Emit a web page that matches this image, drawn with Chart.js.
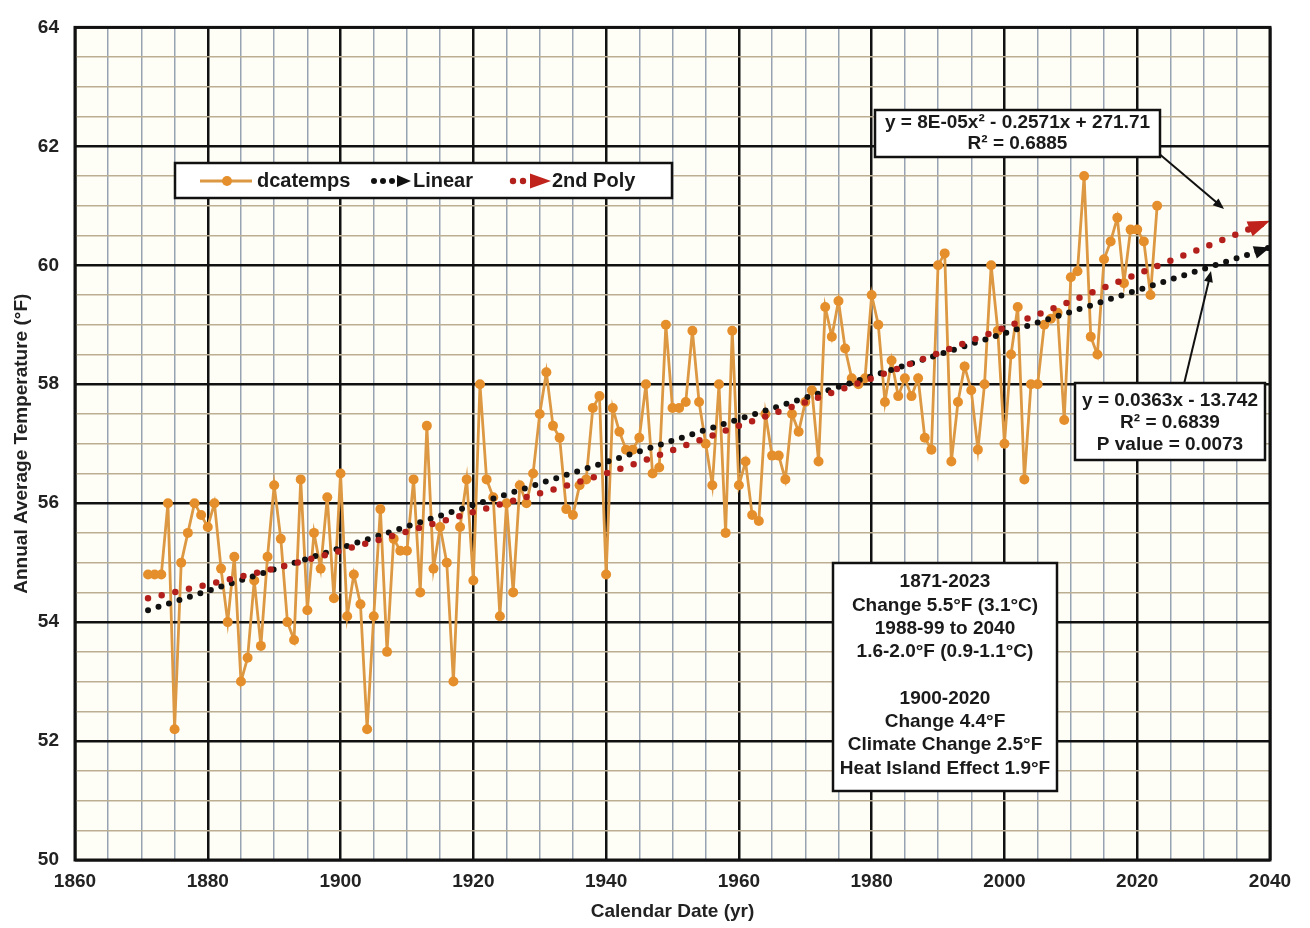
<!DOCTYPE html>
<html><head><meta charset="utf-8">
<script src="https://cdn.jsdelivr.net/npm/chart.js@4.4.0/dist/chart.umd.min.js"></script>
<style>html,body{margin:0;padding:0;background:#fff}#wrap{width:1310px;height:928px}</style>
</head><body><div id="wrap"><canvas id="c" width="1310" height="928"></canvas></div>
<script>
// ---------------- DATA ----------------
const startYear = 1871;
const temps = [
 54.8,54.8,54.8,56.0,52.2,55.0,55.5,56.0,55.8,55.6,   // 1871-1880
 56.0,54.9,54.0,55.1,53.0,53.4,54.7,53.6,55.1,56.3,   // 1881-1890
 55.4,54.0,53.7,56.4,54.2,55.5,54.9,56.1,54.4,56.5,   // 1891-1900
 54.1,54.8,54.3,52.2,54.1,55.9,53.5,55.4,55.2,55.2,   // 1901-1910
 56.4,54.5,57.3,54.9,55.6,55.0,53.0,55.6,56.4,54.7,   // 1911-1920
 58.0,56.4,56.1,54.1,56.0,54.5,56.3,56.0,56.5,57.5,   // 1921-1930
 58.2,57.3,57.1,55.9,55.8,56.3,56.4,57.6,57.8,54.8,   // 1931-1940
 57.6,57.2,56.9,56.9,57.1,58.0,56.5,56.6,59.0,57.6,   // 1941-1950
 57.6,57.7,58.9,57.7,57.0,56.3,58.0,55.5,58.9,56.3,   // 1951-1960
 56.7,55.8,55.7,57.5,56.8,56.8,56.4,57.5,57.2,57.7,   // 1961-1970
 57.9,56.7,59.3,58.8,59.4,58.6,58.1,58.0,58.1,59.5,   // 1971-1980
 59.0,57.7,58.4,57.8,58.1,57.8,58.1,57.1,56.9,60.0,   // 1981-1990
 60.2,56.7,57.7,58.3,57.9,56.9,58.0,60.0,58.9,57.0,   // 1991-2000
 58.5,59.3,56.4,58.0,58.0,59.0,59.1,59.2,57.4,59.8,   // 2001-2010
 59.9,61.5,58.8,58.5,60.1,60.4,60.8,59.7,60.6,60.6,   // 2011-2020
 60.4,59.5,61.0                                       // 2021-2023
];
const linearYears = [1871, 2040];
const linearVals  = [54.2, 60.3];
const polyYears = [1871, 1890, 1900, 1920, 1940, 1960, 1980, 2000, 2020, 2040];
const polyVals  = [54.4, 54.9, 55.2, 55.85, 56.5, 57.3, 58.1, 58.95, 59.85, 60.75];
const xMin = 1860, xMax = 2040, xMinorStep = 5, xMajorStep = 20;
const yMin = 50, yMax = 64, yMinorStep = 0.5, yMajorStep = 2;
const seriesNames = ['dcatemps', 'Linear', '2nd Poly'];
const xTitle = 'Calendar Date (yr)';
const yTitle = 'Annual Average Temperature (°F)';
const polyBoxLines = ['y = 8E-05x² - 0.2571x + 271.71', 'R² = 0.6885'];
const linBoxLines  = ['y = 0.0363x - 13.742', 'R² = 0.6839', 'P value = 0.0073'];
const noteLines = ['1871-2023', 'Change 5.5°F (3.1°C)', '1988-99 to 2040', '1.6-2.0°F (0.9-1.1°C)', '',
                   '1900-2020', 'Change 4.4°F', 'Climate Change 2.5°F', 'Heat Island Effect 1.9°F'];

// ---------------- STYLE ----------------
const FAM = '"Liberation Sans", Arial, sans-serif';
const ORANGE = '#e58f2c', ORANGE_LINE = '#dc9843', RED = '#b3201c', BLACK = '#111';

const tempPts = temps.map((v, i) => ({x: startYear + i, y: v}));
const linPts = linearYears.map((x, i) => ({x, y: linearVals[i]}));
const polyPts = polyYears.map((x, i) => ({x, y: polyVals[i]}));

function arrowHead(ctx, tx, ty, ang, len, half, color) {
  ctx.save();
  ctx.translate(tx, ty); ctx.rotate(ang);
  ctx.beginPath(); ctx.moveTo(0, 0); ctx.lineTo(-len, -half); ctx.lineTo(-len, half); ctx.closePath();
  ctx.fillStyle = color; ctx.fill();
  ctx.restore();
}
function textBox(ctx, x, y, w, h, lines, lineH, firstY, font) {
  ctx.save();
  ctx.fillStyle = '#fff'; ctx.fillRect(x, y, w, h);
  ctx.lineWidth = 2.5; ctx.strokeStyle = '#111'; ctx.strokeRect(x, y, w, h);
  ctx.fillStyle = '#1a1a1a'; ctx.font = font; ctx.textAlign = 'center'; ctx.textBaseline = 'middle';
  lines.forEach((t, i) => { if (t) ctx.fillText(t, x + w / 2, firstY + i * lineH); });
  ctx.restore();
}

const annot = {
  id: 'annot',
  beforeDraw(chart) {
    const {ctx, chartArea: a} = chart;
    ctx.save(); ctx.fillStyle = '#fffef6'; ctx.fillRect(a.left, a.top, a.right - a.left, a.bottom - a.top); ctx.restore();
  },
  afterDatasetsDraw(chart) {
    const ctx = chart.ctx;
    // arrowheads at end of trend lines
    [[1, BLACK, 16, 6.5], [2, '#c0221c', 22, 8]].forEach(([di, col, len, half]) => {
      const pts = chart.getDatasetMeta(di).data;
      const a = pts[pts.length - 2], b = pts[pts.length - 1];
      const ang = Math.atan2(b.y - a.y, b.x - a.x);
      arrowHead(ctx, b.x, b.y, ang, len, half, col);
    });
    const font = 'bold 19px ' + FAM;
    // Legend
    ctx.save();
    ctx.fillStyle = '#fff'; ctx.fillRect(175, 163, 497, 35);
    ctx.lineWidth = 2.5; ctx.strokeStyle = '#111'; ctx.strokeRect(175, 163, 497, 35);
    const ly = 181;
    ctx.strokeStyle = ORANGE_LINE; ctx.lineWidth = 2.8;
    ctx.beginPath(); ctx.moveTo(200, ly); ctx.lineTo(252, ly); ctx.stroke();
    ctx.fillStyle = ORANGE; ctx.beginPath(); ctx.arc(227, ly, 5, 0, Math.PI * 2); ctx.fill();
    ctx.fillStyle = BLACK;
    [374, 383, 392].forEach(x => { ctx.beginPath(); ctx.arc(x, ly, 3, 0, Math.PI * 2); ctx.fill(); });
    arrowHead(ctx, 411, ly, 0, 14, 6, BLACK);
    ctx.fillStyle = RED;
    [513, 523].forEach(x => { ctx.beginPath(); ctx.arc(x, ly, 3.2, 0, Math.PI * 2); ctx.fill(); });
    arrowHead(ctx, 551, ly, 0, 21, 7.5, '#c0221c');
    ctx.fillStyle = '#1a1a1a'; ctx.font = 'bold 20px ' + FAM; ctx.textBaseline = 'middle'; ctx.textAlign = 'left';
    ctx.fillText(seriesNames[0], 257, ly);
    ctx.fillText(seriesNames[1], 413, ly);
    ctx.fillText(seriesNames[2], 552, ly);
    ctx.restore();
    // Callout arrows
    ctx.save();
    ctx.strokeStyle = '#111'; ctx.lineWidth = 2;
    ctx.beginPath(); ctx.moveTo(1157, 152); ctx.lineTo(1222, 207); ctx.stroke();
    arrowHead(ctx, 1224, 209, Math.atan2(55, 65), 11, 4.5, '#111');
    ctx.beginPath(); ctx.moveTo(1184, 384); ctx.lineTo(1210, 276); ctx.stroke();
    arrowHead(ctx, 1211, 271, Math.atan2(-108, 26), 11, 4.5, '#111');
    ctx.restore();
    // Text boxes
    textBox(ctx, 875, 110, 285, 47, polyBoxLines, 21, 123, font);
    textBox(ctx, 1075, 383, 190, 77, linBoxLines, 22, 401, font);
    textBox(ctx, 833, 563, 224, 228, noteLines, 23.3, 582, font);
  },
  afterDraw(chart) {
    const {ctx, chartArea: a} = chart;
    ctx.save(); ctx.lineWidth = 3; ctx.strokeStyle = '#111';
    ctx.strokeRect(a.left, a.top, a.right - a.left, a.bottom - a.top); ctx.restore();
  }
};

const tickFont = {family: FAM, size: 19, weight: 'bold'};
new Chart(document.getElementById('c'), {
  type: 'line',
  data: {
    datasets: [
      {label: seriesNames[0], data: tempPts, borderColor: ORANGE_LINE, borderWidth: 2.8,
       pointRadius: 5, pointBackgroundColor: ORANGE, pointBorderColor: ORANGE, pointBorderWidth: 0,
       tension: 0, order: 3},
      {label: seriesNames[1], data: linPts, borderColor: BLACK, borderWidth: 6, borderDash: [0, 11],
       borderCapStyle: 'round', pointRadius: 0, order: 2},
      {label: seriesNames[2], data: polyPts, borderColor: RED, borderWidth: 6.5, borderDash: [0, 14],
       borderCapStyle: 'round', pointRadius: 0, cubicInterpolationMode: 'monotone', order: 1}
    ]
  },
  options: {
    responsive: false, animation: false, devicePixelRatio: 1,
    layout: {padding: {top: 22, right: 40, bottom: 0, left: 0}},
    plugins: {legend: {display: false}, tooltip: {enabled: false}},
    scales: {
      x: {
        type: 'linear', min: xMin, max: xMax,
        ticks: {stepSize: xMinorStep, autoSkip: false, maxRotation: 0, padding: 10, color: '#222', font: tickFont,
                callback: v => (v % xMajorStep === 0 ? String(v) : '')},
        grid: {drawTicks: false,
               color: c => (c.tick && c.tick.value % xMajorStep === 0 ? '#111' : '#97a2b3'),
               lineWidth: c => (c.tick && c.tick.value % xMajorStep === 0 ? 2.5 : 1.5)},
        border: {display: false},
        title: {display: true, text: xTitle, color: '#222', font: tickFont, padding: {top: 0, bottom: 5}},
        afterFit(s) { s.height = 68; }
      },
      y: {
        type: 'linear', min: yMin, max: yMax,
        ticks: {stepSize: yMinorStep, autoSkip: false, padding: 16, color: '#222', font: tickFont,
                callback: v => (Math.abs(v % yMajorStep) < 1e-6 ? String(v) : '')},
        grid: {drawTicks: false,
               color: c => (c.tick && Math.abs(c.tick.value % yMajorStep) < 1e-6 ? '#111' : '#bcae92'),
               lineWidth: c => (c.tick && Math.abs(c.tick.value % yMajorStep) < 1e-6 ? 2.5 : 1.5)},
        border: {display: false},
        title: {display: true, text: yTitle, color: '#222', font: tickFont, padding: {top: 10, bottom: 0}},
        afterFit(s) { s.width = 75; }
      }
    }
  },
  plugins: [annot]
});
</script></body></html>
